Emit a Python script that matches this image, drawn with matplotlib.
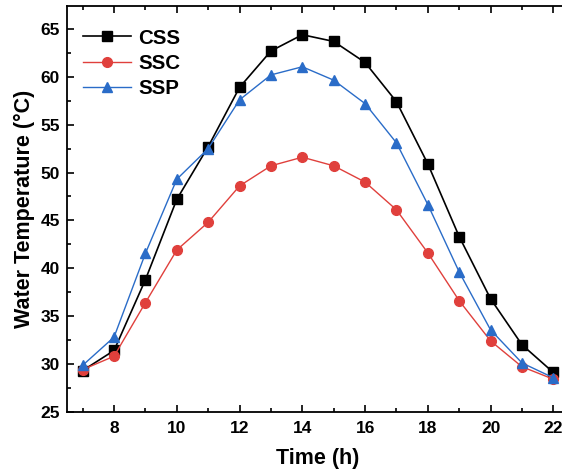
import matplotlib
matplotlib.use('Agg')
import matplotlib.pyplot as plt
from matplotlib.ticker import MultipleLocator

plt.rcParams['font.family'] = ['Liberation Sans', 'DejaVu Sans']
plt.rcParams['font.weight'] = 'bold'

hours = [7, 8, 9, 10, 11, 12, 13, 14, 15, 16, 17, 18, 19, 20, 21, 22]
css = [29.3, 31.4, 38.8, 47.2, 52.7, 58.9, 62.7, 64.4, 63.7, 61.5, 57.4, 50.9, 43.3, 36.8, 32.0, 29.1]
ssc = [29.4, 30.8, 36.4, 41.9, 44.8, 48.6, 50.7, 51.6, 50.7, 49.0, 46.1, 41.6, 36.6, 32.4, 29.7, 28.4]
ssp = [29.85, 32.8, 41.55, 49.3, 52.5, 57.6, 60.2, 61.05, 59.65, 57.2, 53.1, 46.65, 39.6, 33.55, 30.1, 28.55]

fig = plt.figure(figsize=(5.62, 4.74), dpi=100)
# axes run past the right edge, like the cropped original
ax = fig.add_axes([0.1192, 0.1314, 0.8933, 0.8559])

ax.plot(hours, css, color='black', lw=1.2, marker='s', ms=6.5, label='CSS')
ax.plot(hours, ssc, color='#e0403c', lw=1.0, marker='o', ms=7, label='SSC')
ax.plot(hours, ssp, color='#2a6cc8', lw=1.0, marker='^', ms=7.5, label='SSP')

ax.set_xlim(6.5, 22.5)
ax.set_ylim(25, 67.4)
ax.xaxis.set_major_locator(MultipleLocator(2))
ax.xaxis.set_minor_locator(MultipleLocator(1))
ax.yaxis.set_major_locator(MultipleLocator(5))
ax.yaxis.set_minor_locator(MultipleLocator(2.5))
ax.tick_params(which='both', direction='in', top=True, right=False, labelsize=12.5, width=1.2)
ax.tick_params(which='major', length=5)
ax.tick_params(which='minor', length=3)
ax.tick_params(axis='x', pad=7)
ax.tick_params(axis='y', pad=5)
for s in ax.spines.values():
    s.set_linewidth(1.3)
ax.spines['right'].set_visible(False)

ax.set_xlabel('Time (h)', fontsize=15.5, fontweight='bold', labelpad=8)
ax.set_ylabel('Water Temperature (°C)', fontsize=15.5, fontweight='bold', labelpad=4)

ax.legend(loc='upper left', bbox_to_anchor=(0.0, 0.985), frameon=False, fontsize=14.8,
          handlelength=2.3, handletextpad=0.35, labelspacing=0.3, borderaxespad=0.4)

fig.savefig('out.png', dpi=100)
